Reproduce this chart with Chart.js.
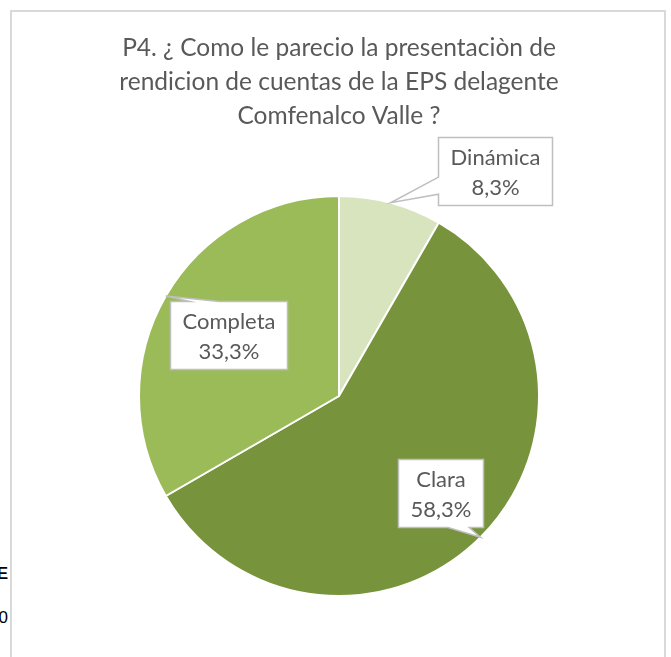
<!DOCTYPE html>
<html>
<head>
<meta charset="utf-8">
<script src="https://cdn.jsdelivr.net/npm/chart.js@4.4.0/dist/chart.umd.min.js"></script>
<style>
  html, body { margin: 0; padding: 0; background: #fff; overflow: hidden; }
  body { width: 671px; height: 657px; position: relative; }
  #frame { position: absolute; left: 10px; top: 10px; width: 652px; height: 700px; border: 2px solid #d9d9d9; }
  #wrap { position: absolute; left: 0; top: 0; width: 671px; height: 657px; }
  .frag { position: absolute; left: -40px; width: 48px; text-align: right; font-family: "Liberation Sans", Arial, sans-serif; color: #000; font-size: 17px; }
</style>
</head>
<body>
<div class="frag" style="top:564px;font-weight:bold">E</div>
<div class="frag" style="top:608px">0</div>
<div id="frame"></div>
<div id="wrap"><canvas id="pie" width="671" height="657"></canvas></div>
<script>
const title = ['P4. ¿ Como le parecio la presentaciòn de', 'rendicion de cuentas de la EPS delagente', 'Comfenalco Valle ?']
const labels = ['Dinámica', 'Clara', 'Completa']
const values = [8.3, 58.3, 33.3]
const colors = ['#d7e4bd', '#77933c', '#9bbb59']

// where each callout box sits relative to the point on the slice edge
const calloutOffsets = [[104, -32], [-40, -44], [63, 39]]

const fontFam = 'Lato, "Open Sans", sans-serif'
const textGray = '#595959'

const callouts = {
    id: 'callouts',
    afterDatasetsDraw(chart) {
        const ctx = chart.ctx
        const meta = chart.getDatasetMeta(0)
        const lineH = 30, padX = 12, padY = 4
        ctx.save()
        ctx.font = '22px ' + fontFam
        meta.data.forEach((arc, i) => {
            const p = arc.getProps(['x', 'y', 'startAngle', 'endAngle', 'outerRadius'], true)
            const mid = (p.startAngle + p.endAngle) / 2
            const tx = p.x + Math.cos(mid) * p.outerRadius
            const ty = p.y + Math.sin(mid) * p.outerRadius
            const lines = [labels[i], values[i].toFixed(1).replace('.', ',') + '%']
            const w = Math.max(...lines.map(s => ctx.measureText(s).width)) + padX * 2
            const h = lines.length * lineH + padY * 2
            const cx = tx + calloutOffsets[i][0], cy = ty + calloutOffsets[i][1]
            const l = Math.round(cx - w / 2) + 0.5, t = Math.round(cy - h / 2) + 0.5
            const r = l + Math.round(w), b = t + Math.round(h)

            // excel style wedge callout
            const dxPos = tx - cx, dyPos = ty - cy
            const horiz = Math.abs(dxPos * h) > Math.abs(dyPos * w)
            const xg = dxPos > 0 ? [7, 10] : [2, 5]
            const yg = dyPos > 0 ? [7, 10] : [2, 5]
            const x1 = l + w * xg[0] / 12, x2 = l + w * xg[1] / 12
            const y1 = t + h * yg[0] / 12, y2 = t + h * yg[1] / 12

            ctx.beginPath()
            ctx.moveTo(l, t)
            if (!horiz && dyPos < 0) { ctx.lineTo(x1, t); ctx.lineTo(tx, ty); ctx.lineTo(x2, t) }
            ctx.lineTo(r, t)
            if (horiz && dxPos > 0) { ctx.lineTo(r, y1); ctx.lineTo(tx, ty); ctx.lineTo(r, y2) }
            ctx.lineTo(r, b)
            if (!horiz && dyPos > 0) { ctx.lineTo(x2, b); ctx.lineTo(tx, ty); ctx.lineTo(x1, b) }
            ctx.lineTo(l, b)
            if (horiz && dxPos < 0) { ctx.lineTo(l, y2); ctx.lineTo(tx, ty); ctx.lineTo(l, y1) }
            ctx.closePath()
            ctx.fillStyle = '#fff'
            ctx.fill()
            ctx.strokeStyle = '#bfbfbf'
            ctx.lineWidth = 1.5
            ctx.stroke()

            ctx.fillStyle = textGray
            ctx.textAlign = 'center'
            ctx.textBaseline = 'middle'
            lines.forEach((s, k) => {
                ctx.fillText(s, (l + r) / 2, t + padY + lineH * k + lineH / 2 + 1)
            })
        })
        ctx.restore()
    }
}

new Chart(document.getElementById('pie').getContext('2d'), {
    type: 'pie',
    data: {
        labels: labels,
        datasets: [{
            data: values,
            backgroundColor: colors,
            borderColor: '#fff',
            borderWidth: 2,
            radius: 200
        }]
    },
    options: {
        responsive: false,
        animation: false,
        layout: { padding: { left: 14, right: 7, top: 0, bottom: 15 } },
        plugins: {
            title: {
                display: true,
                text: title,
                color: textGray,
                font: { family: fontFam, size: 24.5, weight: 'normal', lineHeight: 34 / 24.5 },
                padding: { top: 31, bottom: 17 }
            },
            legend: { display: false },
            tooltip: { enabled: false }
        }
    },
    plugins: [callouts]
})
</script>
</body>
</html>
